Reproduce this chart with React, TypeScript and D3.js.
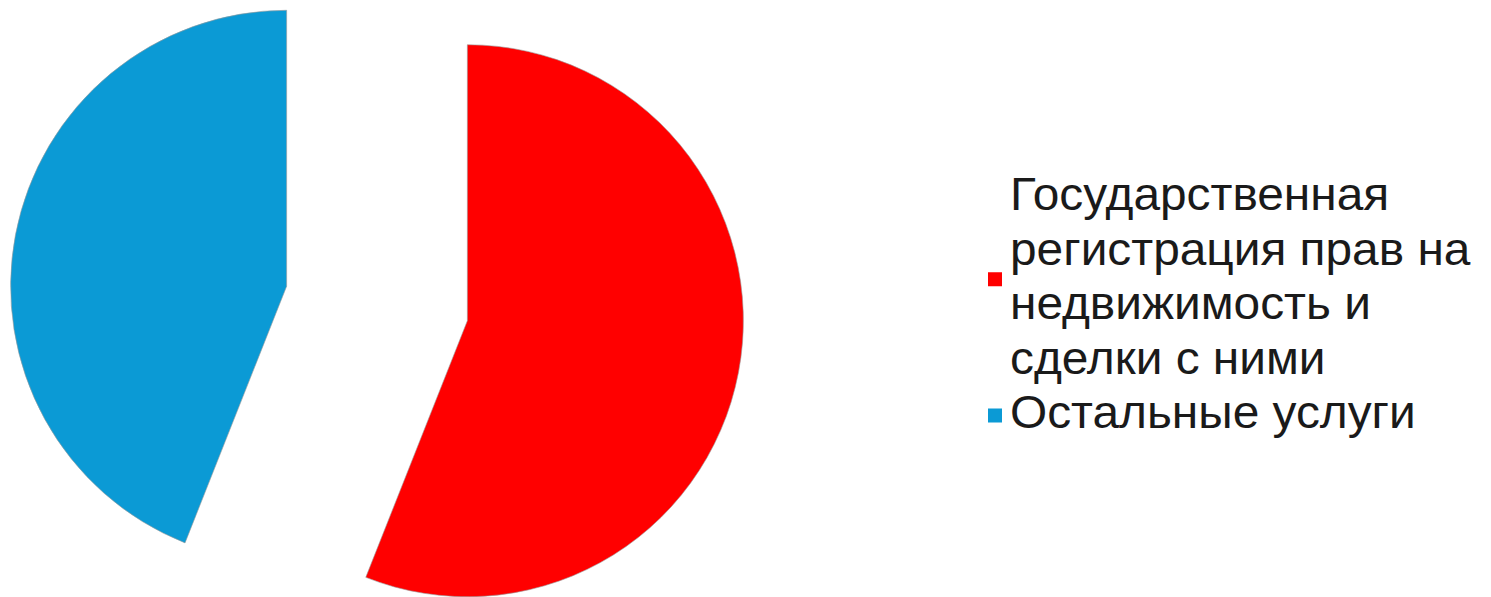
import React from "react";
import * as d3 from "d3";

const categories = [
  "Государственная регистрация прав на недвижимость и сделки с ними",
  "Остальные услуги",
];
const values = [56, 44];
const colors = ["#ff0000", "#0b9ad5"];
const legendLines = [
  ["Государственная", "регистрация прав на", "недвижимость и", "сделки с ними"],
  ["Остальные услуги"],
];

const W = 1491;
const H = 597;

export default function App() {
  const cx = 377;
  const cy = 303.5;
  const r = 276;
  const explode = 92;
  const pie = d3.pie<number>().sort(null).startAngle(0).endAngle(2 * Math.PI);
  const arcs = pie(values);
  const arcGen = d3.arc<d3.PieArcDatum<number>>().innerRadius(0).outerRadius(r);

  const lineH = 54.5;
  const firstBaseline = 210;
  const textX = 1010;
  let lineIdx = 0;
  const legend = legendLines.map((lines, i) => {
    const start = lineIdx;
    lineIdx += lines.length;
    const top = firstBaseline + start * lineH - 33;
    const bottom = firstBaseline + (start + lines.length - 1) * lineH;
    const mid = (top + bottom) / 2 + 4;
    return { lines, start, mid, i };
  });

  return (
    <svg
      width={W}
      height={H}
      style={{ position: "absolute", left: 0, top: 0, background: "#fff" }}
      fontFamily="'Liberation Sans', Arial, sans-serif"
    >
      <rect width={W} height={H} fill="#fff" />
      {arcs.map((a, i) => {
        const mid = (a.startAngle + a.endAngle) / 2;
        const dx = Math.sin(mid) * explode;
        const dy = -Math.cos(mid) * explode;
        return (
          <path
            key={categories[i]}
            d={arcGen(a) || ""}
            transform={`translate(${cx + dx},${cy + dy})`}
            fill={colors[i]}
            stroke="#9a9a9a"
            strokeWidth={0.6}
          />
        );
      })}
      {legend.map((l) => (
        <g key={categories[l.i]}>
          <rect x={988} y={l.mid - 7} width={14} height={14} fill={colors[l.i]} />
          {l.lines.map((t, j) => (
            <text
              key={j}
              transform={`translate(${textX},${firstBaseline + (l.start + j) * lineH}) scale(1.04,1)`}
              fontSize={46}
              fill="#1a1a1a"
            >
              {t}
            </text>
          ))}
        </g>
      ))}
    </svg>
  );
}
